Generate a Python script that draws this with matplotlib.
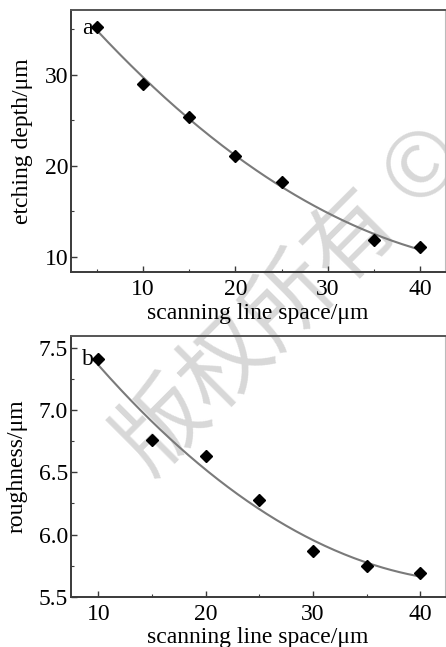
import numpy as np
import matplotlib
matplotlib.use("Agg")
import matplotlib.pyplot as plt
from matplotlib.ticker import MultipleLocator, FormatStrFormatter

plt.rcParams['font.family'] = ['Liberation Serif', 'DejaVu Serif']

# Data (a): etching depth vs scanning line space
space_a = [5, 10, 15, 20, 25, 35, 40]
depth_a = [35.2, 29.0, 25.4, 21.1, 18.2, 11.9, 11.1]
# Data (b): roughness vs scanning line space
space_b = [10, 15, 20, 25, 30, 35, 40]
rough_b = [7.41, 6.76, 6.63, 6.28, 5.87, 5.75, 5.69]

xlabel = "scanning line space/μm"
ylabel_a = "etching depth/μm"
ylabel_b = "roughness/μm"

W, H = 446, 647
fig = plt.figure(figsize=(W / 100, H / 100), dpi=100)

spine_col = '#3a3a3a'
fit_col = '#7a7a7a'
fs = 17


def style(ax):
    ax.patch.set_alpha(0)
    for s in ax.spines.values():
        s.set_color(spine_col)
        s.set_linewidth(1.4)
    ax.spines['right'].set_color('#bbbbbb')
    ax.spines['right'].set_linewidth(0.8)
    ax.spines['top'].set_color('#555555')
    ax.tick_params(which='both', direction='in', top=False, right=False,
                   colors=spine_col, labelcolor='black', labelsize=fs)
    ax.tick_params(which='major', length=4, width=1.0)
    ax.tick_params(which='minor', length=2.5, width=0.8)
    ax.tick_params(axis='x', pad=5)
    ax.tick_params(axis='y', pad=2)


# Top axes
ax1 = fig.add_axes([71 / W, 1 - 272 / H, 374 / W, 262 / H])
xs = np.linspace(min(space_a), max(space_a), 200)
c1 = np.polyfit(space_a, depth_a, 2)
ax1.plot(xs, np.polyval(c1, xs), color=fit_col, lw=1.5, zorder=2)
ax1.plot(space_a, depth_a, 'D', color='black', ms=6.5, zorder=3)
ax1.set_xlim(2.2, 42.7)
ax1.set_ylim(8.35, 37.1)
ax1.xaxis.set_major_locator(MultipleLocator(10))
ax1.xaxis.set_minor_locator(MultipleLocator(5))
ax1.yaxis.set_major_locator(MultipleLocator(10))
ax1.yaxis.set_minor_locator(MultipleLocator(5))
style(ax1)
ax1.set_xlabel(xlabel, fontsize=fs, labelpad=2)
ax1.set_ylabel(ylabel_a, fontsize=fs, labelpad=8)
ax1.text(0.030, 0.931, 'a', transform=ax1.transAxes, fontsize=fs,
         ha='left', va='center', zorder=4)

# Bottom axes
ax2 = fig.add_axes([71 / W, 1 - 596.7 / H, 374 / W, 261 / H])
xs2 = np.linspace(min(space_b), max(space_b), 200)
c2 = np.polyfit(space_b, rough_b, 2)
ax2.plot(xs2, np.polyval(c2, xs2), color=fit_col, lw=1.5, zorder=2)
ax2.plot(space_b, rough_b, 'D', color='black', ms=6.5, zorder=3)
ax2.set_xlim(7.45, 42.3)
ax2.set_ylim(5.5, 7.6)
ax2.xaxis.set_major_locator(MultipleLocator(10))
ax2.xaxis.set_minor_locator(MultipleLocator(5))
ax2.yaxis.set_major_locator(MultipleLocator(0.5))
ax2.yaxis.set_minor_locator(MultipleLocator(0.25))
ax2.yaxis.set_major_formatter(FormatStrFormatter('%.1f'))
style(ax2)
ax2.set_xlabel(xlabel, fontsize=fs, labelpad=2)
ax2.set_ylabel(ylabel_b, fontsize=fs, labelpad=8)
ax2.text(0.030, 0.907, 'b', transform=ax2.transAxes, fontsize=fs,
         ha='left', va='center', zorder=4)

# Watermark (behind the data)
fig.text(0.655, 0.535, '版权所有 ©', fontsize=64, color='#d8d8d8', rotation=45,
         ha='center', va='center', zorder=-1, fontweight='light',
         family=['Noto Sans CJK SC', 'DejaVu Sans'])

fig.savefig('out.png', dpi=100)
